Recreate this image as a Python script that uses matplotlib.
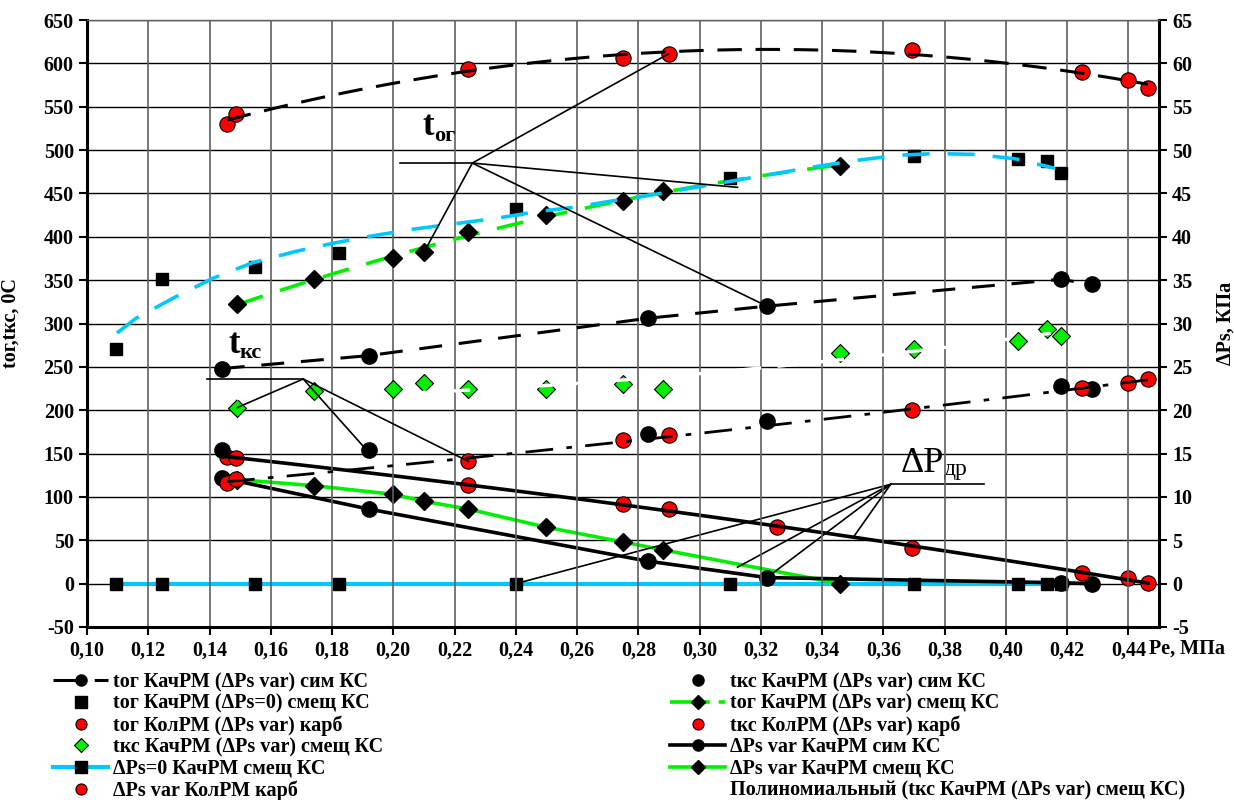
import numpy as np
import matplotlib
matplotlib.use("Agg")
import matplotlib.pyplot as plt
from matplotlib.lines import Line2D

plt.rcParams['font.family'] = ['Liberation Serif', 'DejaVu Serif']
plt.rcParams['axes.unicode_minus'] = False

# ---------------- data ----------------
# КачРМ (ΔPs var) сим КС
sim_x = [0.144, 0.192, 0.283, 0.322, 0.418, 0.428]
tog_sim_y = [248, 263, 306, 320, 351, 345]
tks_sim_y = [154, 154, 172, 188, 228, 225]
dps_sim_y = [12.2, 8.6, 2.6, 0.7, 0.1, 0.0]

# КачРМ (ΔPs var) смещ КС
sm_x = [0.149, 0.174, 0.200, 0.210, 0.2245, 0.250, 0.275, 0.288, 0.346]
tog_sm_y = [323, 351, 376, 382, 405, 425, 441, 453, 482]
dps_sm_y = [12.0, 11.3, 10.3, 9.5, 8.6, 6.5, 4.8, 3.9, 0.0]
tks_sm_x = [0.149, 0.174, 0.200, 0.210, 0.2245, 0.250, 0.275, 0.288, 0.346,
            0.370, 0.404, 0.4134, 0.418]
tks_sm_y = [203, 222, 224, 231, 225, 225, 230, 225, 266, 271, 280, 294, 286]

# КачРМ (ΔPs=0) смещ КС
sq_x = [0.1095, 0.1246, 0.155, 0.1824, 0.240, 0.310, 0.370, 0.404, 0.4134, 0.418]
tog_sq_y = [271, 351, 365, 381, 432, 468, 493, 490, 487, 474]
dps_sq_y = [0, 0, 0, 0, 0, 0, 0, 0, 0, 0]
# trend curve of tог (ΔPs=0)
sq_trend_x = [0.1098, 0.116, 0.128, 0.141, 0.154, 0.168, 0.181, 0.193, 0.207,
              0.220, 0.233, 0.247, 0.259, 0.2726, 0.2856, 0.2987, 0.3118,
              0.3249, 0.338, 0.351, 0.3647, 0.377, 0.390, 0.403, 0.416]
sq_trend_y = [289, 306, 329, 352, 370, 383, 393, 401, 409, 415, 421, 429, 434,
              442, 449, 457, 465, 473, 481, 488, 494, 496, 495, 490, 479]

# КолРМ (ΔPs var) карб
kol_x = [0.1457, 0.1487, 0.2245, 0.2750, 0.2899, 0.3693, 0.4250, 0.4400, 0.4464]
tog_kol_y = [530, 542, 594, 606, 611, 615, 590, 581, 572]
tks_kol_y = [116, 121, 141, 166, 171, 200, 226, 231, 236]
dps_kol_x = [0.1457, 0.1487, 0.2245, 0.2750, 0.2899, 0.3252, 0.3693, 0.4250, 0.4400, 0.4464]
dps_kol_y = [14.6, 14.5, 11.4, 9.2, 8.6, 6.5, 4.1, 1.2, 0.65, 0.05]

x_ticks = [0.10, 0.12, 0.14, 0.16, 0.18, 0.20, 0.22, 0.24, 0.26, 0.28, 0.30,
           0.32, 0.34, 0.36, 0.38, 0.40, 0.42, 0.44]
y_ticks = list(range(-50, 651, 50))
y2_ticks = list(range(-5, 66, 5))

labels = [
    "tог КачРМ (ΔPs var) сим КС",
    "tог КачРМ (ΔPs=0) смещ КС",
    "tог КолРМ (ΔPs var) карб",
    "tкс КачРМ (ΔPs var) смещ КС",
    "ΔPs=0 КачРМ смещ КС",
    "ΔPs var КолРМ карб",
    "tкс КачРМ (ΔPs var) сим КС",
    "tог КачРМ (ΔPs var) смещ КС",
    "tкс КолРМ (ΔPs var) карб",
    "ΔPs var КачРМ сим КС",
    "ΔPs var КачРМ смещ КС",
    "Полиномиальный (tкс КачРМ (ΔPs var) смещ КС)",
]

# ---------------- style ----------------
RED = '#FF0000'
GREEN = '#00F000'
CYAN = '#00C8FF'
DASH = (0, (7.5, 5))
DASHDOT = (0, (10, 4.8, 2, 4.8))
LW = 2.2
FS = 14.5


def trend(x, y, deg=2, n=200):
    x = np.asarray(x, float)
    c = np.polyfit(x, np.asarray(y, float), deg)
    xs = np.linspace(x.min(), x.max(), n)
    return xs, np.polyval(c, xs)


W, H = 1234, 800
fig = plt.figure(figsize=(W / 100, H / 100), dpi=100)
L, R, T, B = 87, 1159, 20, 627
ax = fig.add_axes([L / W, 1 - B / H, (R - L) / W, (B - T) / H])
ax2 = ax.twinx()
ax.set_zorder(2)
ax2.set_zorder(1)
ax.patch.set_visible(False)

ax.set_xlim(0.10, 0.45)
ax.set_ylim(-50, 650)
ax2.set_ylim(-5, 65)

# grid: horizontal on back axis, vertical on front axis (below its artists)
ax2.set_yticks(y2_ticks)
ax2.grid(axis='y', color='black', lw=1.0)
ax.set_axisbelow(True)
ax.set_xticks(x_ticks)
ax.grid(axis='x', color='#606060', lw=1.2)
ax.set_yticks(y_ticks)

# ---------------- ΔPs series (right axis) ----------------
ax2.plot(sq_x, dps_sq_y, color=CYAN, lw=3, zorder=3)
ax2.plot(sq_x, dps_sq_y, ls='none', marker='s', ms=9, color='k', zorder=5)
ax2.plot(sm_x, dps_sm_y, color=GREEN, lw=2.6, zorder=3)
ax2.plot(sm_x, dps_sm_y, ls='none', marker='D', ms=9, color='k', zorder=5)
ax2.plot(sim_x, dps_sim_y, color='k', lw=2.6, zorder=4)
ax2.plot(sim_x, dps_sim_y, ls='none', marker='o', ms=11, color='k', zorder=5)
ax2.plot(dps_kol_x, dps_kol_y, ls='none', marker='o', ms=11, mfc=RED, mec='k', mew=0.8, zorder=5)
tx, ty = trend(dps_kol_x, dps_kol_y, 2)
ax2.plot(tx, ty, color='k', lw=2.6, zorder=6)

# ---------------- temperature series (left axis) ----------------
# tог сим КС
ax.plot(sim_x, tog_sim_y, color='k', lw=LW, ls=(0, (7.5, 5.5)), zorder=4)
ax.plot(sim_x, tog_sim_y, ls='none', marker='o', ms=11, color='k', zorder=5)
# tкс сим КС
ax.plot(sim_x, tks_sim_y, ls='none', marker='o', ms=11, color='k', zorder=5)
# tог ΔPs=0 squares + trend
ax.plot(sq_x, tog_sq_y, ls='none', marker='s', ms=9, color='k', zorder=5)
ax.plot(sq_trend_x, sq_trend_y, color=CYAN, lw=LW + 0.4, ls=DASH, zorder=6)
# tог смещ diamonds + green dashed trend
tx, ty = trend(sm_x, tog_sm_y, 2)
ax.plot(tx, ty, color=GREEN, lw=LW + 0.4, ls=DASH, zorder=4)
ax.plot(sm_x, tog_sm_y, ls='none', marker='D', ms=9, color='k', zorder=5)
# tкс смещ green diamonds + white polynomial trend
ax.plot(tks_sm_x, tks_sm_y, ls='none', marker='D', ms=9, mfc=GREEN, mec='k', mew=0.8, zorder=5)
tx, ty = trend(tks_sm_x, tks_sm_y, 2)
ax.plot(tx, ty, color='white', lw=2.4, ls=DASH, zorder=6)
# КолРМ red circles + black trends
ax.plot(kol_x, tog_kol_y, ls='none', marker='o', ms=11, mfc=RED, mec='k', mew=0.8, zorder=5)
tx, ty = trend(kol_x, tog_kol_y, 2)
ax.plot(tx, ty, color='k', lw=LW, ls=(0, (8, 4.5)), zorder=6)
ax.plot(kol_x, tks_kol_y, ls='none', marker='o', ms=11, mfc=RED, mec='k', mew=0.8, zorder=5)
tx, ty = trend(kol_x, tks_kol_y, 2)
ax.plot(tx, ty, color='k', lw=2.0, ls=DASHDOT, zorder=6)

# ---------------- annotations ----------------
ALW = 1.2
# t_ог
jx, jy = 0.2258, 485
ax.plot([0.2023, jx], [jy, jy], color='k', lw=ALW, zorder=7)
for px, py in [(kol_x[4], tog_kol_y[4]), (sm_x[3], tog_sm_y[3]),
               (0.3124, 457), (sim_x[3], tog_sim_y[3])]:
    ax.plot([jx, px], [jy, py], color='k', lw=ALW, zorder=7)
ax.text(0.2095, 517, 't', fontsize=25, fontweight='bold', ha='left', va='baseline', zorder=8)
ax.text(0.2133, 511, 'ог', fontsize=16, fontweight='bold', ha='left', va='baseline', zorder=8)
# t_кс
jx, jy = 0.1706, 236
ax.plot([0.1392, jx], [jy, jy], color='k', lw=ALW, zorder=7)
for px, py in [(tks_sm_x[0], tks_sm_y[0]), (0.1908, 156), (kol_x[2], tks_kol_y[2])]:
    ax.plot([jx, px], [jy, py], color='k', lw=ALW, zorder=7)
ax.text(0.1461, 266, 't', fontsize=25, fontweight='bold', ha='left', va='baseline', zorder=8)
ax.text(0.1497, 260, 'кс', fontsize=16, fontweight='bold', ha='left', va='baseline', zorder=8)
# ΔP_др (right axis units)
jx, jy = 0.3624, 11.46
ax2.plot([jx, 0.3928], [jy, jy], color='k', lw=ALW, zorder=7)
for px, py in [(sq_x[4], 0.0), (0.3124, 1.9), (sim_x[3], dps_sim_y[3]), (0.3503, 5.4)]:
    ax2.plot([jx, px], [jy, py], color='k', lw=ALW, zorder=7)
ax2.text(0.3655, 12.9, 'ΔP', fontsize=26, ha='left', va='baseline', zorder=8)
ax2.text(0.3797, 12.5, 'др', fontsize=17, ha='left', va='baseline', zorder=8)

# ---------------- axes styling ----------------
ax.set_xticklabels([f"{v:.2f}".replace('.', ',') for v in x_ticks],
                   fontsize=FS, fontweight='bold')
ax.set_yticklabels([str(v) for v in y_ticks], fontsize=FS, fontweight='bold')
ax2.set_yticklabels([str(v) for v in y2_ticks], fontsize=FS, fontweight='bold')
ax.tick_params(axis='both', direction='out', length=6, width=1.5, pad=3.5)
ax2.tick_params(axis='y', direction='out', length=6, width=1.5, pad=3.5)

for s in ['left', 'bottom']:
    ax.spines[s].set_linewidth(2.2)
ax.spines['right'].set_visible(False)
ax.spines['top'].set_linewidth(1.0)
ax.spines['top'].set_color('#606060')
for s in ['left', 'bottom', 'top']:
    ax2.spines[s].set_visible(False)
ax2.spines['right'].set_linewidth(2.2)

ax.set_ylabel('tог,tкс, 0С', fontsize=14.5, fontweight='bold')
ax.yaxis.set_label_coords(-0.062, 0.5)
ax2.set_ylabel('ΔPs, КПа', fontsize=14.5, fontweight='bold')
ax2.yaxis.set_label_coords(1.053, 0.5)
fig.text(1149 / W, 1 - 649 / H, 'Pe, МПа', fontsize=14.5, fontweight='bold',
         ha='left', va='center')

# ---------------- legend ----------------
ms_l = 8
LDASH = (0, (11, 2.5))
hs = [
    Line2D([], [], color='k', lw=LW, ls=LDASH, marker='o', ms=ms_l),
    Line2D([], [], ls='none', marker='s', ms=ms_l, color='k'),
    Line2D([], [], ls='none', marker='o', ms=ms_l, mfc=RED, mec='k', mew=0.8),
    Line2D([], [], ls='none', marker='D', ms=ms_l - 1, mfc=GREEN, mec='k', mew=0.8),
    Line2D([], [], color=CYAN, lw=3, marker='s', ms=ms_l, mfc='k', mec='k'),
    Line2D([], [], ls='none', marker='o', ms=ms_l, mfc=RED, mec='k', mew=0.8),
    Line2D([], [], ls='none', marker='o', ms=ms_l, color='k'),
    Line2D([], [], color=GREEN, lw=LW + 0.4, ls=LDASH, marker='D', ms=ms_l - 1, mfc='k', mec='k'),
    Line2D([], [], ls='none', marker='o', ms=ms_l, mfc=RED, mec='k', mew=0.8),
    Line2D([], [], color='k', lw=LW + 0.4, marker='o', ms=ms_l),
    Line2D([], [], color=GREEN, lw=LW + 0.4, marker='D', ms=ms_l - 1, mfc='k', mec='k'),
    Line2D([], [], color='white', lw=2),
]
leg_kw = dict(loc='upper left', frameon=False, borderpad=0, borderaxespad=0,
              handlelength=2.75, handletextpad=0.25, labelspacing=0.08,
              prop={'family': 'Liberation Serif', 'weight': 'bold', 'size': 14.5})
fig.legend(hs[:6], labels[:6], bbox_to_anchor=(53 / W, 1 - 672 / H), **leg_kw)
fig.legend(hs[6:], labels[6:], bbox_to_anchor=(670 / W, 1 - 672 / H), **leg_kw)

fig.savefig('out.png', dpi=100)
